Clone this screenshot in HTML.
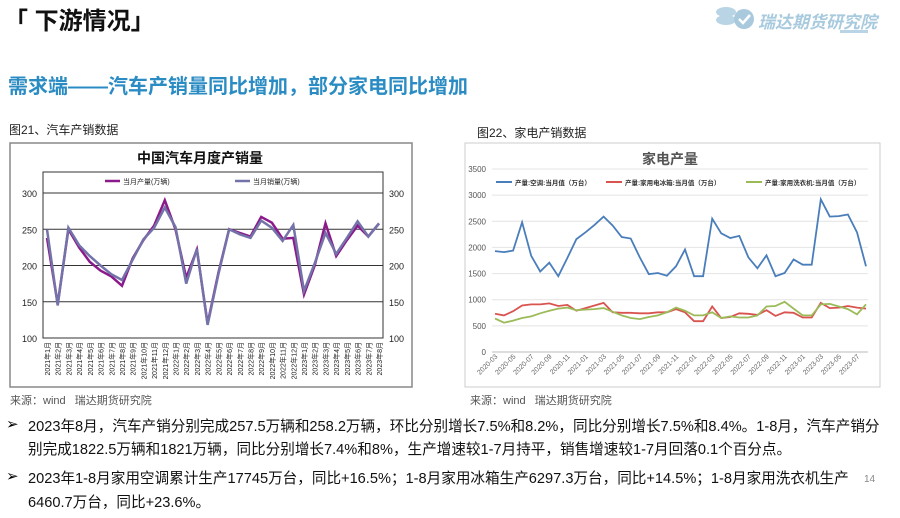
<!DOCTYPE html>
<html><head><meta charset="utf-8"><style>
body{margin:0;width:900px;height:518px;background:#fff;font-family:"Liberation Sans","Noto Sans CJK SC",sans-serif;position:relative;overflow:hidden}
.a{position:absolute;white-space:nowrap}
.p{font-size:14.6px;color:#111;left:28px}
.b{font-size:15px;left:6px}
</style></head><body>
<div class="a" style="left:4px;top:1px;font-size:24px;font-weight:bold;color:#111">「 下游情况」</div>
<div class="a" style="left:712px;top:2px;width:170px;height:32px">
<svg width="50" height="32"><ellipse cx="14" cy="10" rx="10" ry="5" fill="#b9d4e4"/><ellipse cx="14" cy="18" rx="10" ry="5" fill="#b9d4e4"/><circle cx="32" cy="17" r="10" fill="#a9c9dd"/><path d="M27 17l4 4 7-8" stroke="#fff" stroke-width="2.5" fill="none"/></svg>
<span class="a" style="left:46px;top:6px;font-size:17px;font-style:italic;font-weight:bold;color:#a8cade">瑞达期货研究院</span>
</div>
<div class="a" style="left:840px;top:30px;width:28px;height:3px;background:#b9d4e4"></div>
<div class="a" style="left:8px;top:70px;font-size:20px;font-weight:bold;color:#2b8cc4">需求端——汽车产销量同比增加，部分家电同比增加</div>
<div class="a" style="left:9px;top:121px;font-size:12px;color:#222">图21、汽车产销数据</div>
<div class="a" style="left:477px;top:124px;font-size:12px;color:#222">图22、家电产销数据</div>

<svg class="a" style="left:0;top:0" width="900" height="400">
<rect x="10" y="143" width="402" height="244" fill="none" stroke="#888" stroke-width="1.5"/>
<rect x="465" y="143" width="415" height="244" fill="none" stroke="#ccc"/>
<g id="car"></g><g id="app"></g>
</svg>

<div class="a" style="left:10px;top:392px;font-size:11px;color:#555">来源：wind &nbsp;&nbsp;瑞达期货研究院</div>
<div class="a" style="left:470px;top:392px;font-size:11px;color:#555">来源：wind &nbsp;&nbsp;瑞达期货研究院</div>

<div class="a b" style="top:415px">➢</div>
<div class="a p" style="top:415px">2023年8月，汽车产销分别完成257.5万辆和258.2万辆，环比分别增长7.5%和8.2%，同比分别增长7.5%和8.4%。1-8月，汽车产销分</div>
<div class="a p" style="top:438px">别完成1822.5万辆和1821万辆，同比分别增长7.4%和8%，生产增速较1-7月持平，销售增速较1-7月回落0.1个百分点。</div>
<div class="a b" style="top:467px">➢</div>
<div class="a p" style="top:467px">2023年1-8月家用空调累计生产17745万台，同比+16.5%；1-8月家用冰箱生产6297.3万台，同比+14.5%；1-8月家用洗衣机生产</div>
<div class="a p" style="top:491px">6460.7万台，同比+23.6%。</div>
<div class="a" style="left:864px;top:474px;font-size:10px;color:#888">14</div>

<script>
const carMonths=[];for(const y of [2021,2022,2023])for(let m=1;m<=12;m++){if(y===2023&&m>8)break;carMonths.push(y+'年'+m+'月');}
const carProd=[238,147,250,225,205,193,185,172,210,235,255,290,250,183,222,120,190,250,245,240,267,259,237,238,160,200,258,213,235,255,240,258];
const carSales=[250,145,252,228,213,200,188,180,208,236,252,280,253,175,223,118,188,250,243,238,262,252,234,256,165,203,245,216,238,261,240,258];
const carTicks=[100,150,200,250,300];

const appMonths=[];for(const y of [2020,2021,2022,2023])for(let m=1;m<=12;m++){if(y===2020&&m<3)continue;if(y===2023&&m>8)break;appMonths.push(y+'-'+String(m).padStart(2,'0'));}
const acProd=[1930,1910,1940,2480,1840,1540,1710,1450,1800,2160,2290,2430,2590,2420,2200,2170,1810,1490,1510,1460,1640,1960,1450,1450,2550,2270,2180,2220,1810,1600,1850,1450,1510,1770,1670,1670,2920,2590,2600,2630,2290,1640];
const fridgeProd=[730,700,780,890,910,910,930,880,900,790,840,890,940,760,750,750,740,740,760,760,820,760,590,590,870,650,670,740,730,710,800,690,760,750,660,660,940,840,850,880,850,830];
const washerProd=[640,560,600,650,680,740,790,830,850,800,810,820,840,770,700,650,630,670,700,760,850,790,700,700,760,650,680,660,660,700,870,880,960,830,700,700,910,920,870,820,720,910];
const appTicks=[0,500,1000,1500,2000,2500,3000,3500];

const NS='http://www.w3.org/2000/svg';
function mk(p,t,at,txt){const e=document.createElementNS(NS,t);for(const k in at)e.setAttribute(k,at[k]);if(txt!==undefined)e.textContent=txt;p.appendChild(e);return e;}
function pts(arr,x,y){return arr.map((v,i)=>x(i).toFixed(1)+','+y(v).toFixed(1)).join(' ');}

const g=document.getElementById('car');
const cx0=47,cx1=379,cy=v=>338-(v-100)*(145/200);const cxf=i=>cx0+i*(cx1-cx0)/(carMonths.length-1);
let e=mk(g,'rect',{x:43,y:172,width:340,height:166,fill:'#fff',stroke:'#333','stroke-width':1});


carTicks.forEach(t=>{
 if(t>100)mk(g,'line',{x1:43,x2:383,y1:cy(t),y2:cy(t),stroke:'#333','stroke-width':1});
 e=mk(g,'text',{x:37,y:cy(t)+4,'font-size':9,'text-anchor':'end',fill:'#222'},t);
 
 
 e=mk(g,'text',{x:389,y:cy(t)+4,'font-size':9,fill:'#222'},t);
 
 
});
carMonths.forEach((m,i)=>{
 e=mk(g,'text',{transform:`translate(${cxf(i)+3},342) rotate(-90)`,'font-size':7,'text-anchor':'end',fill:'#222'},m);
 
 
});
e=mk(g,'text',{x:200,y:163,'font-size':14,'font-weight':'bold','text-anchor':'middle',fill:'#111'},'中国汽车月度产销量');


e=mk(g,'polyline',{points:pts(carProd,cxf,cy),fill:'none',stroke:'#8b1a8b','stroke-width':2.5});


e=mk(g,'polyline',{points:pts(carSales,cxf,cy),fill:'none',stroke:'#7373aa','stroke-width':2.5});


mk(g,'line',{x1:105,x2:120,y1:181,y2:181,stroke:'#8b1a8b','stroke-width':2.5});
e=mk(g,'text',{x:123,y:184,'font-size':7,fill:'#222'},'当月产量(万辆)');


mk(g,'line',{x1:235,x2:250,y1:181,y2:181,stroke:'#7373aa','stroke-width':2.5});
e=mk(g,'text',{x:253,y:184,'font-size':7,fill:'#222'},'当月销量(万辆)');



const h=document.getElementById('app');
const ax0=495,ax1=866,ay=v=>352-v*(183/3500);const axf=i=>ax0+i*(ax1-ax0)/(appMonths.length-1);
appTicks.forEach(t=>{
 mk(h,'line',{x1:492,x2:868,y1:ay(t),y2:ay(t),stroke:t===0?'#bbb':'#e4e4e4','stroke-width':1});
 e=mk(h,'text',{x:486,y:ay(t)+3,'font-size':8,'text-anchor':'end',fill:'#555'},t);
 
 
});
appMonths.forEach((m,i)=>{ if(i%2)return;
 e=mk(h,'text',{transform:`translate(${axf(i)+3},357) rotate(-45)`,'font-size':7,'text-anchor':'end',fill:'#666'},m);
 
 
});
e=mk(h,'text',{x:670,y:164,'font-size':14,'font-weight':'bold','text-anchor':'middle',fill:'#555'},'家电产量');


const series=[[acProd,'#4a7ebb','ac-line','产量:空调:当月值（万台）',496],[fridgeProd,'#d9534f','fridge-line','产量:家用电冰箱:当月值（万台）',606],[washerProd,'#9bbb59','washer-line','产量:家用洗衣机:当月值（万台）',746]];
series.forEach(s=>{
 e=mk(h,'polyline',{points:pts(s[0],axf,ay),fill:'none',stroke:s[1],'stroke-width':1.8});
 
 
 mk(h,'line',{x1:s[4],x2:s[4]+16,y1:182,y2:182,stroke:s[1],'stroke-width':2});
 e=mk(h,'text',{x:s[4]+19,y:185,'font-size':6.5,'font-weight':'bold',fill:'#333'},s[3]);
 
 
});
</script>
</body></html>
